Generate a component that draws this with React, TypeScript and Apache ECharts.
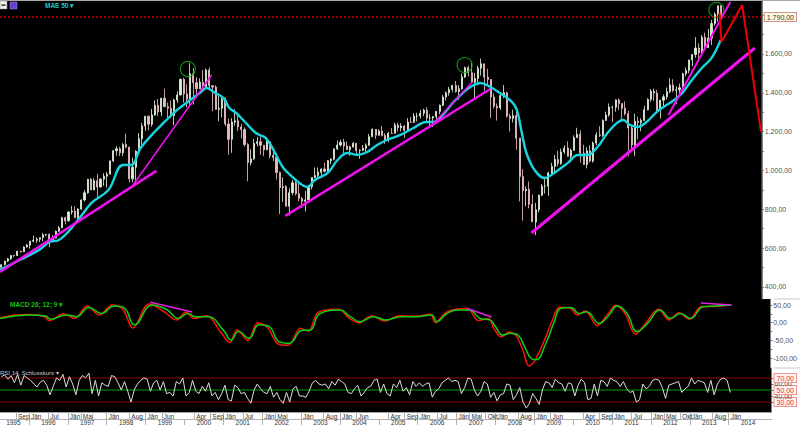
import React, { useEffect, useRef } from 'react';
import * as echarts from 'echarts';

// ---------- DATA ----------
// Monthly bars, Apr 1995 .. Jan 2014
const firstOpen = 500.7;
const closes = [
  514.7, 533.4, 544.8, 562.1, 561.9, 584.4, 581.5, 605.4, 615.9,
  636.0, 640.4, 645.5, 654.2, 669.1, 670.6, 639.9, 651.9, 687.3, 705.3, 757.0, 740.7,
  786.2, 790.8, 757.1, 801.3, 848.3, 885.1, 954.3, 899.5, 947.3, 914.6, 955.4, 970.4,
  980.3, 1049.3, 1101.8, 1111.8, 1090.8, 1133.8, 1120.7, 957.3, 1017.0, 1098.7, 1163.6, 1229.2,
  1279.6, 1238.3, 1286.4, 1335.2, 1301.8, 1372.7, 1328.7, 1320.4, 1282.7, 1362.9, 1388.9, 1469.3,
  1394.5, 1366.4, 1498.6, 1452.4, 1420.6, 1454.6, 1430.8, 1517.7, 1436.5, 1429.4, 1315.0, 1320.3,
  1366.0, 1239.9, 1160.3, 1249.5, 1255.8, 1224.4, 1211.2, 1133.6, 1040.9, 1059.8, 1139.5, 1148.1,
  1130.2, 1106.7, 1147.4, 1076.9, 1067.1, 989.8, 911.6, 916.1, 815.3, 885.8, 936.3, 879.8,
  855.7, 841.2, 848.2, 916.9, 963.6, 974.5, 990.3, 1008.0, 996.0, 1050.7, 1058.2, 1111.9,
  1131.1, 1144.9, 1126.2, 1107.3, 1120.7, 1140.8, 1101.7, 1104.2, 1114.6, 1130.2, 1173.8, 1211.9,
  1181.3, 1203.6, 1180.6, 1156.9, 1191.5, 1191.3, 1234.2, 1220.3, 1228.8, 1207.0, 1249.5, 1248.3,
  1280.1, 1280.7, 1294.9, 1310.6, 1270.1, 1270.2, 1276.7, 1303.8, 1335.9, 1377.9, 1400.6, 1418.3,
  1438.2, 1406.8, 1420.9, 1482.4, 1530.6, 1503.4, 1455.3, 1474.0, 1526.8, 1549.4, 1481.1, 1468.4,
  1378.6, 1330.6, 1322.7, 1385.6, 1400.4, 1280.0, 1267.4, 1282.8, 1166.4, 968.8, 896.2, 903.3,
  825.9, 735.1, 797.9, 872.8, 919.1, 919.3, 987.5, 1020.6, 1057.1, 1036.2, 1095.6, 1115.1,
  1073.9, 1104.5, 1169.4, 1186.7, 1089.4, 1030.7, 1101.6, 1049.3, 1141.2, 1183.3, 1180.6, 1257.6,
  1286.1, 1327.2, 1325.8, 1363.6, 1345.2, 1320.6, 1292.3, 1218.9, 1131.4, 1253.3, 1247.0, 1257.6,
  1312.4, 1365.7, 1408.5, 1397.9, 1310.3, 1362.2, 1379.3, 1406.6, 1440.7, 1412.2, 1416.2, 1426.2,
  1498.1, 1514.7, 1569.2, 1597.6, 1630.7, 1606.3, 1685.7, 1633.0, 1681.6, 1756.5, 1805.8, 1848.4,
  1782.6,
];
const highs = [
  515, 535, 551, 563, 565, 586, 587, 609, 622,
  636, 664, 656, 656, 679, 674, 676, 666, 691, 714, 762, 762,
  790, 818, 815, 805, 851, 900, 957, 961, 960, 983, 960, 986,
  992, 1051, 1106, 1125, 1122, 1141, 1190, 1121, 1066, 1104, 1193, 1245,
  1280, 1283, 1317, 1362, 1368, 1373, 1421, 1350, 1361, 1370, 1407, 1474,
  1478, 1444, 1553, 1528, 1481, 1475, 1518, 1525, 1531, 1437, 1438, 1390,
  1384, 1377, 1268, 1270, 1316, 1286, 1239, 1222, 1141, 1110, 1163, 1173,
  1176, 1131, 1173, 1147, 1107, 1068, 994, 965, 925, 908, 951, 954,
  935, 864, 895, 924, 965, 1016, 1015, 1011, 1040, 1054, 1063, 1112,
  1155, 1159, 1163, 1150, 1127, 1146, 1141, 1109, 1131, 1140, 1188, 1217,
  1212, 1212, 1229, 1192, 1199, 1219, 1246, 1245, 1243, 1233, 1270, 1276,
  1295, 1297, 1311, 1318, 1326, 1290, 1281, 1306, 1340, 1389, 1407, 1431,
  1441, 1461, 1439, 1499, 1535, 1540, 1556, 1503, 1539, 1576, 1545, 1524,
  1471, 1396, 1345, 1397, 1440, 1405, 1292, 1313, 1303, 1168, 1007, 918,
  943, 876, 833, 876, 930, 956, 993, 1039, 1080, 1101, 1113, 1130,
  1150, 1112, 1181, 1220, 1206, 1132, 1120, 1130, 1149, 1197, 1228, 1263,
  1303, 1345, 1333, 1366, 1371, 1346, 1356, 1307, 1230, 1293, 1277, 1269,
  1334, 1372, 1420, 1422, 1415, 1364, 1392, 1427, 1475, 1470, 1434, 1448,
  1504, 1531, 1570, 1598, 1687, 1655, 1698, 1710, 1730, 1776, 1814, 1849,
  1851,
];
const lows = [
  500, 511, 528, 540, 553, 560, 576, 579, 603,
  597, 631, 627, 631, 636, 661, 605, 639, 649, 684, 703, 722,
  737, 773, 756, 733, 798, 840, 881, 899, 899, 855, 914, 921,
  912, 980, 1043, 1077, 1074, 1074, 1114, 940, 940, 923, 1097, 1133,
  1205, 1207, 1225, 1282, 1281, 1281, 1328, 1268, 1269, 1233, 1348, 1387,
  1350, 1325, 1330, 1339, 1373, 1420, 1413, 1430, 1421, 1305, 1313, 1254,
  1274, 1229, 1081, 1091, 1232, 1203, 1165, 1124, 944, 1026, 1054, 1124,
  1081, 1074, 1105, 1063, 1048, 953, 775, 838, 815, 768, 873, 872,
  841, 806, 789, 847, 902, 960, 962, 960, 990, 995, 1031, 1052,
  1105, 1124, 1087, 1105, 1076, 1118, 1078, 1060, 1101, 1091, 1127, 1173,
  1163, 1180, 1176, 1137, 1146, 1188, 1191, 1201, 1201, 1168, 1201, 1246,
  1245, 1253, 1268, 1280, 1246, 1219, 1224, 1265, 1290, 1331, 1361, 1385,
  1403, 1400, 1364, 1416, 1476, 1484, 1455, 1371, 1439, 1489, 1407, 1435,
  1271, 1320, 1257, 1312, 1373, 1272, 1200, 1247, 1107, 840, 741, 815,
  805, 735, 667, 784, 868, 881, 869, 978, 992, 1020, 1029, 1086,
  1071, 1045, 1101, 1168, 1040, 1029, 1011, 1040, 1040, 1131, 1173, 1173,
  1257, 1277, 1249, 1303, 1311, 1258, 1283, 1074, 1114, 1075, 1159, 1202,
  1257, 1310, 1354, 1358, 1291, 1267, 1325, 1365, 1397, 1403, 1343, 1385,
  1426, 1485, 1501, 1537, 1581, 1560, 1605, 1627, 1633, 1646, 1746, 1767,
  1737,
];
// MAE 50 (cyan) [decimal year, value]
const maePoints = [
  [1995.26, 488], [1995.77, 539], [1996.28, 591], [1996.54, 632], [1996.79, 642], [1997.23, 730],
  [1997.64, 833], [1998.08, 900], [1998.46, 1028], [1998.67, 1028], [1998.92, 1116], [1999.28, 1198],
  [1999.54, 1250], [1999.87, 1312], [2000.21, 1363], [2000.46, 1399], [2000.64, 1425], [2000.82, 1404],
  [2001.08, 1373], [2001.23, 1322], [2001.41, 1296], [2001.59, 1260], [2001.92, 1193], [2002.18, 1167],
  [2002.38, 1106], [2002.62, 1018], [2002.87, 967], [2003.13, 925], [2003.26, 915], [2003.46, 951],
  [2003.79, 987], [2004.05, 1054], [2004.31, 1090], [2004.56, 1080], [2004.82, 1095], [2005.08, 1131],
  [2005.33, 1157], [2005.69, 1183], [2006.03, 1219], [2006.36, 1250], [2006.54, 1250], [2006.79, 1286],
  [2007.05, 1348], [2007.31, 1399], [2007.51, 1430], [2007.77, 1451], [2008.03, 1430], [2008.28, 1399],
  [2008.59, 1353], [2008.72, 1312], [2008.85, 1193], [2008.97, 1090], [2009.18, 1003], [2009.44, 961],
  [2009.69, 987], [2010.05, 1039], [2010.31, 1080], [2010.56, 1080], [2010.82, 1121], [2011.08, 1193],
  [2011.33, 1245], [2011.49, 1260], [2011.67, 1234], [2011.85, 1224], [2012.10, 1250], [2012.36, 1301],
  [2012.62, 1337], [2012.82, 1363], [2013.03, 1399], [2013.28, 1466], [2013.54, 1528], [2013.79, 1579],
  [2014.03, 1672],
];
const resistanceLevel = 1790;
// trend lines (magenta) on price
const priceTrends = [
  [[1995.256, 477], [1999.33, 998]],
  [[1998.72, 925], [2000.77, 1492]],
  [[2002.69, 766], [2008.03, 1420]],
  [[2006.46, 1224], [2007.56, 1456]],
  [[2009.10, 678], [2014.92, 1631]],
  [[2012.67, 1286], [2014.28, 1868]],
];
const priceTrendWidths = [2.5, 1.5, 2.5, 1.5, 3, 2];
const projection = [[2014.0, 1815], [2014.05, 1662], [2014.59, 1852], [2015.08, 1200]];
const peakMarks = [[2000.15, 1523], [2007.36, 1543], [2013.92, 1827]];
// MACD
const macdRed = [
  [1995.26, 14], [1995.6, 21], [1996.0, 23], [1996.4, 17], [1996.52, 6], [1996.9, 25], [1997.18, 12],
  [1997.5, 47], [1997.82, 22], [1998.15, 50], [1998.42, 38], [1998.68, -15], [1999.1, 53], [1999.5, 30],
  [1999.8, 8], [2000.05, 30], [2000.25, 12], [2000.58, 20], [2000.95, -28], [2001.18, -56], [2001.36, -20],
  [2001.64, -50], [2001.9, 0], [2002.15, -14], [2002.42, -60], [2002.68, -64], [2003.0, -16], [2003.2, -24],
  [2003.46, 30], [2003.98, 38], [2004.24, 14], [2004.5, 0], [2004.84, 20], [2005.16, 5], [2005.55, 20],
  [2005.95, 18], [2006.34, 24], [2006.47, 0], [2006.73, 28], [2007.0, 38], [2007.3, 40], [2007.58, 6],
  [2007.84, 12], [2007.98, -16], [2008.17, -40], [2008.37, -26], [2008.56, -38], [2008.75, -85],
  [2008.88, -122], [2009.02, -110], [2009.28, -50], [2009.48, 5], [2009.67, 44], [2009.93, 42],
  [2010.13, 22], [2010.33, 33], [2010.64, -8], [2010.92, 25], [2011.12, 49], [2011.37, 24], [2011.63, -32],
  [2011.9, 0], [2012.22, 38], [2012.49, 8], [2012.75, 28], [2013.02, 10], [2013.33, 46], [2013.66, 46],
  [2014.05, 50],
];
const macdGreen = [
  [1995.26, 12], [1995.65, 19], [1996.04, 22], [1996.43, 19], [1996.56, 10], [1996.96, 22], [1997.22, 17],
  [1997.55, 43], [1997.87, 26], [1998.20, 47], [1998.46, 41], [1998.72, -6], [1999.18, 50], [1999.57, 36],
  [1999.84, 12], [2000.10, 26], [2000.29, 17], [2000.62, 17], [2001.01, -21], [2001.21, -49], [2001.40, -25],
  [2001.67, -44], [2001.93, -6], [2002.19, -11], [2002.45, -54], [2002.71, -58], [2003.04, -21], [2003.24, -21],
  [2003.50, 26], [2004.02, 36], [2004.28, 17], [2004.54, 3], [2004.87, 17], [2005.20, 8], [2005.59, 17],
  [2005.98, 17], [2006.38, 22], [2006.51, 3], [2006.77, 26], [2007.03, 36], [2007.36, 36], [2007.62, 12],
  [2007.88, 8], [2008.02, -11], [2008.21, -35], [2008.41, -30], [2008.60, -35], [2008.79, -72],
  [2008.93, -100], [2009.06, -105], [2009.32, -58], [2009.52, -2], [2009.71, 41], [2009.97, 43],
  [2010.17, 26], [2010.37, 31], [2010.69, -2], [2010.95, 22], [2011.15, 47], [2011.41, 26], [2011.67, -25],
  [2011.94, -2], [2012.26, 36], [2012.53, 12], [2012.79, 26], [2013.05, 12], [2013.37, 45], [2013.70, 47],
  [2014.10, 50],
];
const macdTrends = [
  [[1999.13, 58], [2000.21, 30]],
  [[2007.28, 41], [2007.92, 16]],
  [[2013.31, 56], [2014.10, 50]],
];
// RSI, monthly Apr 1995 .. Jan 2014
const rsi = [
  72, 75, 68, 74, 62, 76, 58, 74, 70,
  66, 60, 55, 63, 66, 58, 42, 56, 70, 66, 76, 55,
  72, 60, 42, 66, 74, 70, 78, 44, 66, 40, 62, 58,
  56, 74, 72, 62, 50, 64, 48, 30, 50, 60, 66, 70,
  68, 48, 62, 66, 50, 64, 44, 46, 40, 64, 60, 70,
  40, 46, 66, 48, 44, 56, 48, 62, 40, 46, 34, 44,
  58, 34, 32, 58, 54, 44, 46, 36, 28, 50, 60, 52,
  46, 44, 56, 38, 46, 34, 28, 46, 30, 52, 56, 40,
  40, 38, 48, 62, 66, 60, 58, 60, 52, 64, 58, 68,
  64, 60, 46, 44, 52, 58, 40, 46, 54, 56, 66, 68,
  46, 60, 44, 40, 60, 54, 66, 48, 54, 42, 64, 56,
  62, 56, 60, 62, 38, 48, 52, 62, 66, 70, 64, 66,
  64, 44, 54, 70, 68, 50, 40, 48, 64, 60, 38, 46,
  32, 42, 44, 60, 58, 34, 42, 54, 30, 20, 28, 44,
  36, 26, 50, 64, 62, 54, 68, 62, 60, 48, 62, 60,
  40, 58, 68, 62, 34, 36, 60, 40, 66, 64, 56, 70,
  66, 64, 56, 64, 52, 46, 48, 30, 34, 60, 52, 56,
  66, 68, 66, 54, 36, 58, 60, 62, 64, 46, 52, 56,
  70, 60, 66, 64, 62, 46, 66, 42, 60, 68, 70, 66,
  46,
];
const rsiLevels = [70, 50, 30];
// axis labels
const priceTicks = [400, 600, 800, 1000, 1200, 1400, 1600];
const macdTicks = [-100, -50, 0, 50];
const rsiTicks = [20, 30, 40, 50, 60, 70, 80];
const monthNames = ['Jän', 'Feb', 'Mär', 'Apr', 'Mai', 'Jun', 'Jul', 'Aug', 'Sep', 'Okt', 'Nov', 'Dez'];
const monthLabelDates = [
  [1995, 8], [1996, 0], [1996, 6], [1997, 0], [1997, 4], [1998, 0], [1998, 7], [1999, 0], [1999, 5],
  [2000, 3], [2000, 8], [2001, 0], [2001, 6], [2002, 0], [2002, 4], [2003, 0], [2003, 7], [2004, 0],
  [2004, 5], [2005, 3], [2005, 8], [2006, 0], [2006, 6], [2007, 0], [2007, 4], [2007, 9], [2008, 0],
  [2008, 7], [2009, 0], [2009, 5], [2010, 3], [2010, 8], [2011, 0], [2011, 6], [2012, 0], [2012, 4],
  [2012, 9], [2013, 0], [2013, 7], [2014, 0],
];
const years = [1995, 1996, 1997, 1998, 1999, 2000, 2001, 2002, 2003, 2004, 2005, 2006, 2007, 2008, 2009, 2010, 2011, 2012, 2013, 2014];

// ---------- HELPERS ----------
const XMIN = 1995.256;
const XMAX = 2015.1;
const FONT = 'Liberation Sans';
const monthT = (i: number) => 1995 + (3 + i + 0.5) / 12;
const fmt = (v: number) => {
  const neg = v < 0;
  const [ip, dp] = Math.abs(v).toFixed(2).split('.');
  return (neg ? '-' : '') + ip.replace(/\B(?=(\d{3})+(?!\d))/g, '.') + ',' + dp;
};

function buildOption() {
  const candleData = closes.map((c, i) => [monthT(i), i === 0 ? firstOpen : closes[i - 1], c, lows[i], highs[i]]);
  const rsiData = rsi.map((v, i) => [monthT(i), v]);
  const monthVals = monthLabelDates.map(([y, m]) => y + m / 12);
  const yearTickVals = years.slice(1).map((y) => y);
  const yearLabelVals = years.map((y) => (y === 1995 ? 1995.6 : y + 0.5));

  const hiddenX = (gi: number) => ({
    type: 'value', gridIndex: gi, min: XMIN, max: XMAX, show: false, splitLine: { show: false },
  });
  const baseY = {
    type: 'value', position: 'right', splitLine: { show: false },
    axisLine: { show: true, lineStyle: { color: '#808080', width: 1 } },
  };
  const line = (data: any, xi: number, color: string, width: number, extra: any = {}) => ({
    type: 'line', xAxisIndex: xi, yAxisIndex: xi, data, symbol: 'none', silent: true,
    lineStyle: { color, width }, ...extra,
  });

  const series: any[] = [
    {
      type: 'candlestick', xAxisIndex: 0, yAxisIndex: 0, data: candleData,
      encode: { x: 0, y: [1, 2, 3, 4] }, barWidth: 1.6, silent: true,
      itemStyle: { color: '#d6efd0', color0: '#efbcc2', borderColor: '#e4f6de', borderColor0: '#f3c8ce', borderWidth: 0.8 },
    },
    line([[XMIN, resistanceLevel], [XMAX, resistanceLevel]], 0, '#d00000', 1.5, { lineStyle: { color: '#d00000', width: 1.5, type: [2, 2] } }),
    line(maePoints, 0, '#18d4e0', 2.4, { smooth: 0.4 }),
  ];
  priceTrends.forEach((pts, i) => series.push(line(pts, 0, '#f010f0', priceTrendWidths[i])));
  series.push(line(projection, 0, '#ee0000', 2));
  series.push({
    type: 'scatter', xAxisIndex: 0, yAxisIndex: 0, data: peakMarks, symbol: 'circle', symbolSize: 15, silent: true,
    itemStyle: { color: 'rgba(0,0,0,0)', borderColor: '#10b010', borderWidth: 1.2 },
  });
  series.push(line(macdRed, 1, '#ff1010', 1.5, { smooth: 0.35 }));
  series.push(line(macdGreen, 1, '#10d010', 1.5, { smooth: 0.45 }));
  macdTrends.forEach((pts) => series.push(line(pts, 1, '#e020e0', 1.5)));
  rsiLevels.forEach((lv) =>
    series.push(line([[XMIN, lv], [XMAX, lv]], 2, lv === 50 ? '#00a000' : '#900000', 1)));
  series.push(line(rsiData, 2, '#dcdcdc', 1));

  const labelBase = { fontSize: 7, color: '#505050', fontFamily: FONT, margin: 3 };

  return {
    animation: false,
    backgroundColor: '#ffffff',
    grid: [
      { left: 0, right: 26, top: 1, height: 298, show: true, backgroundColor: '#000', borderWidth: 0 },
      { left: 0, right: 26, top: 299, height: 69, show: true, backgroundColor: '#000', borderWidth: 0 },
      { left: 0, right: 26, top: 368, height: 45, show: true, backgroundColor: '#000', borderWidth: 0 },
    ],
    xAxis: [
      hiddenX(0),
      hiddenX(1),
      {
        type: 'value', gridIndex: 2, min: XMIN, max: XMAX, position: 'bottom', splitLine: { show: false },
        axisLine: { show: true, lineStyle: { color: '#a0a0a0', width: 1 } },
        axisTick: { show: true, customValues: monthVals, length: 7, lineStyle: { color: '#b0b0b0' } },
        axisLabel: {
          show: true, customValues: monthVals, align: 'left', margin: 1, padding: [0, 0, 0, 2],
          fontSize: 6.5, color: '#333', fontFamily: FONT,
          formatter: (v: number) => monthNames[((Math.round(v * 12) % 12) + 12) % 12],
        },
      },
      {
        type: 'value', gridIndex: 2, min: XMIN, max: XMAX, position: 'bottom', offset: 7, splitLine: { show: false },
        axisLine: { show: true, lineStyle: { color: '#b0b0b0', width: 1 } },
        axisTick: { show: true, customValues: yearTickVals, length: 6, lineStyle: { color: '#b0b0b0' } },
        axisLabel: {
          show: true, customValues: yearLabelVals, margin: 0, fontSize: 6.5, color: '#333', fontFamily: FONT,
          formatter: (v: number) => String(Math.floor(v)),
        },
      },
    ],
    yAxis: [
      {
        ...baseY, gridIndex: 0, min: 338, max: 1873,
        axisTick: { show: true, length: 2, customValues: [400, 500, 600, 700, 800, 900, 1000, 1100, 1200, 1300, 1400, 1500, 1600, 1700, 1800], lineStyle: { color: '#606060' } },
        axisLabel: {
          ...labelBase, customValues: [...priceTicks, resistanceLevel],
          formatter: (v: number) => (Math.abs(v - resistanceLevel) < 0.01 ? '{box|' + fmt(v) + '}' : fmt(v)),
          rich: { box: { fontSize: 7, color: '#303030', fontFamily: FONT, backgroundColor: '#fffbe0', borderColor: '#d09090', borderWidth: 1, padding: [1, 2, 0, 2] } },
        },
      },
      {
        ...baseY, gridIndex: 1, min: -128, max: 67,
        axisTick: { show: true, length: 2, customValues: [-100, -75, -50, -25, 0, 25, 50], lineStyle: { color: '#606060' } },
        axisLabel: { ...labelBase, customValues: macdTicks, formatter: (v: number) => fmt(v) },
      },
      {
        ...baseY, gridIndex: 2, min: 13.5, max: 86.5,
        axisTick: { show: true, length: 2, customValues: rsiTicks, lineStyle: { color: '#606060' } },
        axisLabel: {
          ...labelBase, customValues: rsiTicks,
          formatter: (v: number) => (rsiLevels.indexOf(Math.round(v)) >= 0 ? '{box|' + fmt(v) + '}' : fmt(v)),
          rich: { box: { fontSize: 7, color: '#e03030', fontFamily: FONT, backgroundColor: '#fff2f2', borderColor: '#f09090', borderWidth: 1, padding: [1, 2, 0, 2] } },
        },
      },
    ],
    series,
    graphic: [
      { type: 'rect', shape: { x: 0, y: 0, width: 800, height: 1 }, style: { fill: '#a8a8a8' }, silent: true },
      { type: 'rect', shape: { x: 774, y: 298.5, width: 26, height: 1 }, style: { fill: '#c8c8c8' }, silent: true },
      { type: 'rect', shape: { x: 774, y: 367.5, width: 26, height: 1 }, style: { fill: '#c8c8c8' }, silent: true },
      { type: 'rect', shape: { x: 0, y: 1, width: 7, height: 8 }, style: { fill: '#f0f0f0', stroke: '#909090', lineWidth: 0.5 }, silent: true },
      { type: 'rect', shape: { x: 1.5, y: 4.5, width: 4, height: 1.2 }, style: { fill: '#000' }, silent: true },
      { type: 'rect', shape: { x: 10, y: 2, width: 7, height: 7 }, style: { fill: '#6a3fd0', stroke: '#a090f0', lineWidth: 0.5 }, silent: true },
      { type: 'text', x: 45, y: 2, style: { text: 'MAE 50 ▾', fill: '#18c8d8', font: 'bold 6.5px Liberation Sans' }, silent: true },
      { type: 'text', x: 10, y: 301, style: { text: 'MACD 26; 12; 9 ▾', fill: '#10c010', font: 'bold 6.5px Liberation Sans' }, silent: true },
      { type: 'text', x: 0, y: 370, style: { text: 'RSI 14, Schlusskurs ▾', fill: '#c8c8c8', font: '6px Liberation Sans' }, silent: true },
    ],
  };
}

export default function App() {
  const ref = useRef<HTMLDivElement>(null);
  useEffect(() => {
    if (!ref.current) return;
    const chart = echarts.init(ref.current, null, { renderer: 'svg' });
    chart.setOption(buildOption() as any);
    return () => chart.dispose();
  }, []);
  return <div ref={ref} style={{ position: 'absolute', left: 0, top: 0, width: 800, height: 426 }} />;
}
